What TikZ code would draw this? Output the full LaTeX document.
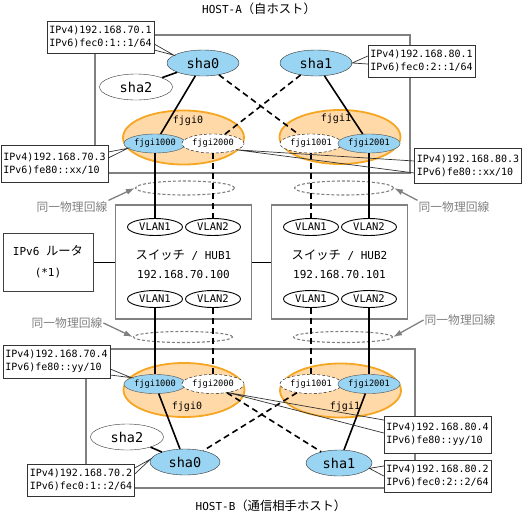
\documentclass[tikz,border=0pt]{standalone}
\usepackage{fontspec}
\setmainfont{DejaVu Sans Mono}
\newfontfamily\jp{Noto Sans CJK JP}[Scale=1.12]
\usetikzlibrary{shapes.geometric, arrows.meta}
\definecolor{shablue}{RGB}{153,212,242}
\definecolor{bondfill}{RGB}{255,217,168}
\definecolor{bonddraw}{RGB}{245,166,35}
\definecolor{framegray}{RGB}{128,128,128}

\begin{document}
\begin{tikzpicture}[
    x=1pt, y=-1pt,
    every node/.style={font=\fontsize{10}{13}\selectfont, inner sep=1pt},
    hostbox/.style={draw=framegray, line width=1.3pt},
    bond/.style={ellipse, draw=bonddraw, fill=bondfill, line width=1.8pt, minimum width=121pt, minimum height=54pt},
    phys/.style={ellipse, draw=black!70, fill=shablue, minimum width=55pt, minimum height=19pt, font=\fontsize{8.7}{10}\selectfont},
    virt/.style={phys, fill=white, draw=black, dash pattern=on 3pt off 2pt},
    sha/.style={ellipse, draw=black!80, fill=shablue, minimum width=72pt, minimum height=26pt, font=\fontsize{13.5}{15}\selectfont},
    vlan/.style={ellipse, draw, fill=white, line width=0.9pt, minimum width=55pt, minimum height=17pt, font=\fontsize{10.5}{12}\selectfont},
    hub/.style={rectangle, draw=framegray, line width=1.3pt, minimum width=136pt, minimum height=114pt},
    loop/.style={ellipse, draw=framegray, dash pattern=on 3pt off 2pt, line width=1.1pt, minimum width=99pt},
    addr/.style={rectangle, draw=black!80, fill=white, align=left, minimum width=107pt, minimum height=32pt, inner sep=2pt},
    samelbl/.style={text=framegray, font=\jp\fontsize{10.5}{12}\selectfont},
    grayarrow/.style={-{Latex[length=9pt,width=6pt]}, draw=framegray, line width=1.3pt},
    link/.style={line width=1.6pt},
    vlink/.style={link, dash pattern=on 6pt off 4pt},
    callout/.style={draw=black!80, line width=0.7pt}
]
\useasboundingbox (0,0) rectangle (525,515);

% host frames
\draw[hostbox] (95,35) rectangle (410,173);
\draw[hostbox] (86,349) rectangle (415,488);
\node (titleA) at (259,9) {\fontsize{11}{13}\selectfont HOST-A{\jp （自ホスト）}};
\node (titleB) at (271,506) {\fontsize{11}{13}\selectfont HOST-B{\jp （通信相手ホスト）}};

% HOST-A
\node (bondA0) [bond] at (183.5,137.5) {};
\node (bondA1) [bond] at (340,137) {};
\node (bondA0lbl) at (188,121) {fjgi0};
\node (bondA1lbl) at (336,119) {fjgi1};
\node (fA1000) [phys] at (155,143.5) {fjgi1000};
\node (fA2000) [virt] at (213,143.5) {fjgi2000};
\node (fA1001) [virt] at (311,143.5) {fjgi1001};
\node (fA2001) [phys] at (369,143.5) {fjgi2001};
\node (shaA0) [sha] at (203,63) {sha0};
\node (shaA1) [sha] at (316,63) {sha1};
\node (shaA2) [sha, fill=white, minimum width=73pt] at (136,87) {sha2};

% switches
\node (hub1) [hub] at (183.5,262) {};
\node (hub2) [hub] at (339.5,262) {};
\node (hub1name) at (183.5,255) {\fontsize{11}{13}\selectfont{\jp スイッチ} / HUB1};
\node (hub1ip) at (183.5,274) {\fontsize{11}{13}\selectfont 192.168.70.100};
\node (hub2name) at (339.5,255) {\fontsize{11}{13}\selectfont{\jp スイッチ} / HUB2};
\node (hub2ip) at (339.5,274) {\fontsize{11}{13}\selectfont 192.168.70.101};
\node (h1v1t) [vlan] at (155,227) {VLAN1};
\node (h1v2t) [vlan] at (213,227) {VLAN2};
\node (h2v1t) [vlan] at (311,227) {VLAN1};
\node (h2v2t) [vlan] at (369,227) {VLAN2};
\node (h1v1b) [vlan] at (155,299) {VLAN1};
\node (h1v2b) [vlan] at (213,299) {VLAN2};
\node (h2v1b) [vlan] at (311,299) {VLAN1};
\node (h2v2b) [vlan] at (369,299) {VLAN2};
\node (router) [rectangle, draw=black!75, line width=1pt, minimum width=90pt, minimum height=58pt, align=center, font=\fontsize{11}{21}\selectfont] at (48,262) {IPv6 {\jp ルータ}\\(*1)};

% same physical line
\node (loopA1) [loop, minimum height=14pt] at (185,188) {};
\node (loopA2) [loop, minimum height=14pt] at (344,188) {};
\node (loopB1) [loop, minimum height=11pt] at (183,337) {};
\node (loopB2) [loop, minimum height=11pt] at (343,337) {};
\node (sameA1) [samelbl] at (72,207) {同一物理回線};
\node (sameA2) [samelbl] at (454,207) {同一物理回線};
\node (sameB1) [samelbl] at (67,323) {同一物理回線};
\node (sameB2) [samelbl] at (460,320) {同一物理回線};

% HOST-B
\node (bondB0) [bond] at (184,390) {};
\node (bondB1) [bond] at (340.5,390.5) {};
\node (bondB0lbl) at (187,407) {fjgi0};
\node (bondB1lbl) at (345,407) {fjgi1};
\node (fB1000) [phys] at (155,384) {fjgi1000};
\node (fB2000) [virt] at (213,384) {fjgi2000};
\node (fB1001) [virt] at (311,384) {fjgi1001};
\node (fB2001) [phys] at (369,384) {fjgi2001};
\node (shaB0) [sha, minimum width=70pt] at (185,462) {sha0};
\node (shaB1) [sha, minimum width=66pt] at (339,463) {sha1};
\node (shaB2) [sha, fill=white, minimum width=73pt] at (127,437) {sha2};

% connectors
\draw[link] (shaA0) -- (shaA2);
\draw[link] (shaA0) -- (fA1000);
\draw[vlink] (shaA0) -- (fA1001);
\draw[vlink] (shaA1) -- (fA2000);
\draw[link] (shaA1) -- (fA2001);
\draw[link] (fA1000) -- (h1v1t);
\draw[vlink] (fA2000) -- (h1v2t);
\draw[vlink] (fA1001) -- (h2v1t);
\draw[link] (fA2001) -- (h2v2t);
\draw[link] (h1v1b) -- (fB1000);
\draw[vlink] (h1v2b) -- (fB2000);
\draw[vlink] (h2v1b) -- (fB1001);
\draw[link] (h2v2b) -- (fB2001);
\draw[link] (fB1000) -- (shaB0);
\draw[vlink] (fB2000) -- (shaB1);
\draw[vlink] (fB1001) -- (shaB0);
\draw[link] (fB2001) -- (shaB1);
\draw[link] (shaB0) -- (shaB2);
\draw[line width=1pt] (router) -- (hub1);
\draw[line width=1pt] (hub1) -- (hub2);
\draw[grayarrow] (sameA1.north east) -- (loopA1.west);
\draw[grayarrow] (sameA2.north west) -- (loopA2.east);
\draw[grayarrow] (sameB1.east) -- (loopB1.west);
\draw[grayarrow] (sameB2.west) -- (loopB2.east);

% address labels
\node (adA0) [addr] at (100.5,37) {IPv4)192.168.70.1\\IPv6)fec0:1::1/64};
\node (adA1) [addr] at (421.5,61) {IPv4)192.168.80.1\\IPv6)fec0:2::1/64};
\node (adA3) [addr, minimum height=37pt] at (54.5,163.5) {IPv4)192.168.70.3\\IPv6)fe80::xx/10};
\node (adA4) [addr, minimum height=35pt] at (468,165.5) {IPv4)192.168.80.3\\IPv6)fe80::xx/10};
\node (adB4) [addr, minimum height=33pt] at (56.5,361.5) {IPv4)192.168.70.4\\IPv6)fe80::yy/10};
\node (adB3) [addr, minimum height=37pt] at (437.5,434.5) {IPv4)192.168.80.4\\IPv6)fe80::yy/10};
\node (adB0) [addr] at (81,480) {IPv4)192.168.70.2\\IPv6)fec0:1::2/64};
\node (adB1) [addr] at (437.5,476) {IPv4)192.168.80.2\\IPv6)fec0:2::2/64};
\draw[callout] (adA0.east |- 0,44) -- (shaA0.165) -- (adA0.east |- 0,50);
\draw[callout] (adA1.west |- 0,56) -- (shaA1.east) -- (adA1.west |- 0,64);
\draw[callout] (adA3.east |- 0,152) -- (fA1000.190) -- (adA3.east |- 0,158);
\draw[callout] (adA4.west |- 0,161) -- (fA2000.-15) -- (adA4.west |- 0,173);
\draw[callout] (adB4.east |- 0,369) -- (fB1000.165) -- (adB4.east |- 0,375);
\draw[callout] (adB3.west |- 0,420) -- (fB2000.-30) -- (adB3.west |- 0,433);
\draw[callout] (adB0.east |- 0,468) -- (shaB0.175) -- (adB0.east |- 0,474);
\draw[callout] (adB1.west |- 0,466) -- (shaB1.-10) -- (adB1.west |- 0,476);
\end{tikzpicture}
\end{document}
